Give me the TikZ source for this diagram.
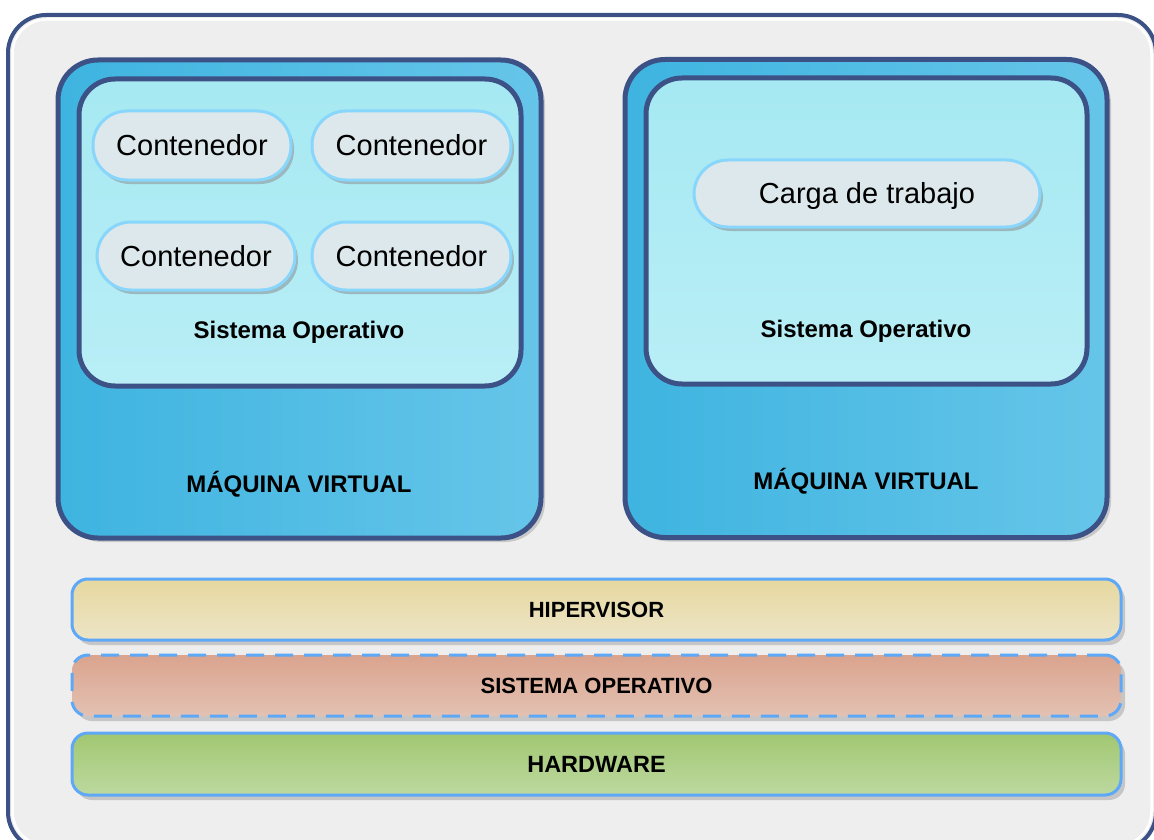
\documentclass[tikz,border=0pt]{standalone}
\usepackage{fontspec}
\setmainfont{Liberation Sans}
\usetikzlibrary{shadows}

\definecolor{frameblue}{HTML}{3C5287}
\definecolor{framefill}{HTML}{EEEEEE}
\definecolor{vmleft}{HTML}{3EB4E0}
\definecolor{vmright}{HTML}{66C5E9}
\definecolor{ostop}{HTML}{A6E9F2}
\definecolor{osbottom}{HTML}{B9EEF6}
\definecolor{pillfill}{HTML}{DCE8EB}
\definecolor{pillline}{HTML}{88D6FB}
\definecolor{pillshadow}{HTML}{9BB8BE}
\definecolor{bandline}{HTML}{5EA8F8}
\definecolor{bandshadow}{HTML}{C6C6C6}
\definecolor{hyptop}{HTML}{E7D8A0}
\definecolor{hypbot}{HTML}{ECE4C6}
\definecolor{sotop}{HTML}{DAA48E}
\definecolor{sobot}{HTML}{E3C1B3}
\definecolor{hwtop}{HTML}{A1C771}
\definecolor{hwbot}{HTML}{BDD9A0}
\definecolor{vmshadow}{HTML}{C8C8C8}

\tikzset{
  vmbox/.style={draw=frameblue, line width=5pt, rounded corners=40pt,
    left color=vmleft, right color=vmright,
    minimum width=#1, minimum height=478pt, inner sep=0pt,
    drop shadow={shadow xshift=4pt, shadow yshift=-4pt, fill=vmshadow, opacity=1}},
  osbox/.style={draw=frameblue, line width=5pt, rounded corners=36pt,
    top color=ostop, bottom color=osbottom,
    minimum width=#1, minimum height=307pt, inner sep=0pt},
  pill/.style={draw=pillline, line width=3pt, rounded corners=34pt,
    fill=pillfill, minimum width=#1, minimum height=69pt, inner sep=0pt,
    font=\fontsize{29}{34}\selectfont, text height=21pt, text depth=0pt,
    drop shadow={shadow xshift=3pt, shadow yshift=-4pt, fill=pillshadow, opacity=1}},
  boldlabel/.style={font=\fontsize{24}{28}\selectfont\bfseries, inner sep=0pt},
  band/.style={draw=bandline, line width=3pt, rounded corners=16pt,
    minimum width=1049pt, minimum height=61pt, inner sep=0pt,
    font=\fontsize{22}{26}\selectfont\bfseries,
    drop shadow={shadow xshift=4pt, shadow yshift=-5pt, fill=bandshadow, opacity=1}},
}

\begin{document}
\begin{tikzpicture}[x=1pt, y=-1pt]
  \useasboundingbox (0,0) rectangle (1154,840);

  % outer frame with a thin white inner highlight
  \begin{scope}
    \clip (0,0) rectangle (1154,840);
    \node[draw=frameblue, line width=4pt, fill=framefill, rounded corners=38pt,
          minimum width=1148pt, minimum height=835pt, inner sep=0pt]
          (frame) at (582,432.5) {};
    \draw[white, line width=2.5pt, rounded corners=34pt] (12.5,19.5) rectangle (1151.5,845.5);
  \end{scope}

  % virtual machines
  \node[vmbox=483pt] (vmA) at (299.5,299) {};
  \node[vmbox=482pt] (vmB) at (866,298.5) {};

  % guest operating systems
  \node[osbox=442pt] (osA) at (300,232.5) {};
  \node[osbox=441pt, minimum height=306pt] (osB) at (866.5,231) {};

  % containers and workload
  \node[pill=198pt] (c1) at (192,145.5) {Contenedor};
  \node[pill=199pt] (c2) at (411.5,145.5) {Contenedor};
  \node[pill=198pt, minimum height=68pt] (c3) at (196,256) {Contenedor};
  \node[pill=199pt, minimum height=68pt] (c4) at (411.5,256) {Contenedor};
  \node[pill=346pt, minimum height=67pt] (work) at (867,193.5) {Carga de trabajo};

  % labels
  \node[boldlabel] (osAlbl) at (299,332) {Sistema Operativo};
  \node[boldlabel] (osBlbl) at (866,331) {Sistema Operativo};
  \node[boldlabel] (vmAlbl) at (299,484) {MÁQUINA VIRTUAL};
  \node[boldlabel] (vmBlbl) at (866,481) {MÁQUINA VIRTUAL};

  % host layers
  \node[band, top color=hyptop, bottom color=hypbot] (hyp) at (596.5,609.5) {HIPERVISOR};
  \node[band, top color=sotop, bottom color=sobot, dash pattern=on 18pt off 11pt]
        (hostos) at (596.5,685.5) {SISTEMA OPERATIVO};
  \node[band, top color=hwtop, bottom color=hwbot, minimum height=62pt,
        font=\fontsize{23.5}{28}\selectfont\bfseries]
        (hw) at (596.5,764) {HARDWARE};
\end{tikzpicture}
\end{document}
